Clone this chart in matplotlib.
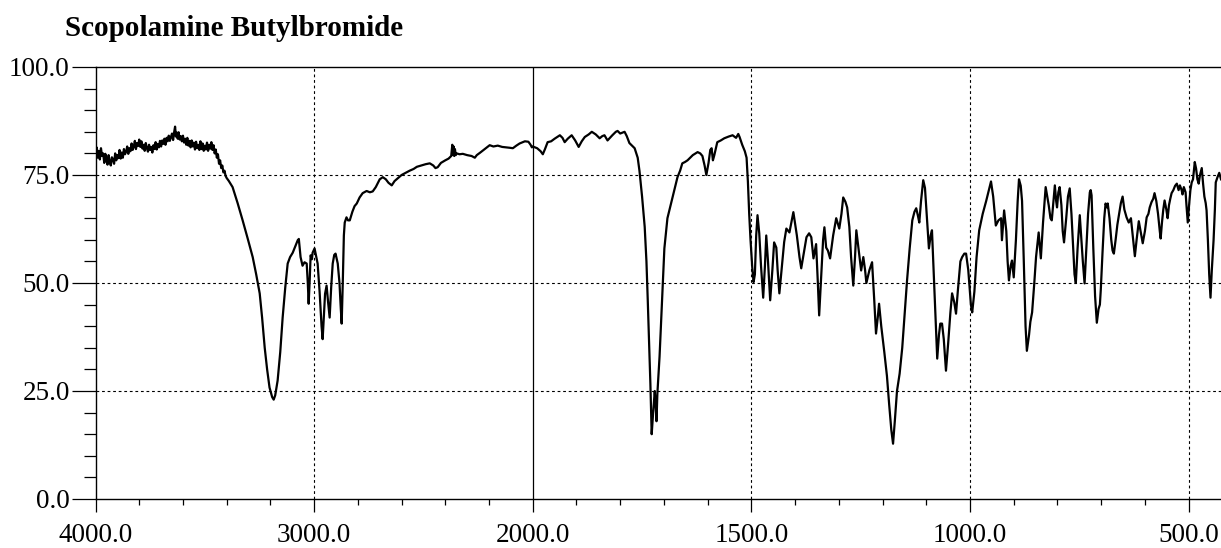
import numpy as np
import matplotlib
matplotlib.use('Agg')
import matplotlib.pyplot as plt
from matplotlib.ticker import FixedLocator, FixedFormatter

plt.rcParams['font.family'] = ['Liberation Serif', 'DejaVu Serif']

title = 'Scopolamine Butylbromide'

# ---- spectrum values (wavenumber cm-1, %T) ----
wn_a = [4000, 3995, 3990, 3985, 3980, 3975, 3970, 3965, 3960, 3955, 3950, 3945, 3940, 3935,
        3930, 3925, 3920, 3915, 3910, 3905, 3900, 3895, 3890, 3885, 3880, 3875, 3870, 3865,
        3860, 3855, 3850, 3845, 3840, 3835, 3830, 3825, 3820, 3815, 3810, 3805, 3800, 3795,
        3790, 3785, 3780, 3775, 3770, 3765, 3760, 3755, 3750, 3745, 3740, 3735, 3730, 3725,
        3720, 3715, 3710, 3705, 3700, 3695, 3690, 3685, 3680, 3675, 3670, 3665, 3660, 3655,
        3650, 3645, 3640, 3636, 3632, 3628, 3624, 3620, 3615, 3610, 3605, 3600, 3595, 3590,
        3585, 3580, 3575, 3570, 3565, 3560, 3555, 3550, 3545, 3540, 3535, 3530, 3525, 3520,
        3515, 3510, 3505, 3500, 3495, 3490, 3485, 3480, 3475, 3470, 3465, 3460, 3455, 3450,
        3445, 3440, 3435, 3430, 3425, 3420, 3415, 3410, 3405, 3400]
t_a = [80.2, 81.4, 79.0, 80.6, 78.6, 81.2, 79.4, 80.0, 77.8, 79.9, 78.4, 77.4, 79.6, 78.0,
       77.2, 79.1, 78.6, 77.6, 80.0, 78.4, 79.6, 78.9, 80.8, 78.8, 80.2, 79.0, 81.0, 79.8,
       80.4, 81.6, 79.9, 81.2, 80.5, 82.3, 80.8, 81.6, 82.9, 81.0, 82.4, 81.7, 83.2, 81.5,
       82.8, 81.1, 82.0, 80.6, 82.4, 81.2, 80.4, 82.0, 80.8, 81.5, 80.2, 81.9, 81.0, 82.6,
       80.9, 82.2, 81.4, 82.9, 81.6, 83.0, 82.2, 83.4, 82.0, 83.6, 82.8, 84.1, 82.9, 83.8,
       84.6, 83.1, 85.0, 86.2, 83.9, 84.8, 83.4, 84.9, 83.2, 84.0, 82.8, 84.1, 82.5, 83.4,
       82.0, 83.6, 81.8, 82.9, 81.4, 83.0, 81.6, 82.5, 80.9, 82.7, 81.2, 82.0, 80.8, 82.8,
       81.0, 82.3, 80.6, 81.8, 80.9, 82.5, 80.6, 82.0, 81.1, 82.6, 80.8, 81.9, 80.0, 80.9,
       79.0, 79.8, 77.6, 78.4, 76.6, 77.2, 75.6, 76.0, 74.8, 74.3]

wn_b = [3390, 3373, 3350, 3327, 3305, 3281, 3265, 3249, 3238, 3226, 3215, 3204, 3192, 3185,
        3178, 3167, 3155, 3144, 3132, 3121, 3110, 3098, 3086, 3075, 3070, 3066, 3062, 3053,
        3044, 3034, 3029, 3025, 3020, 3016, 3010, 3007, 2998, 2992, 2984, 2975, 2966, 2961,
        2955, 2950, 2943, 2936, 2929, 2922, 2915, 2908, 2902, 2892, 2884, 2878, 2874, 2869,
        2864, 2860, 2852, 2845, 2837, 2825, 2815, 2805, 2792, 2778, 2760, 2745, 2732, 2718,
        2700, 2686, 2672, 2660, 2645, 2632, 2618, 2600, 2585, 2563, 2545, 2530, 2510, 2490,
        2471, 2455, 2445, 2435, 2420, 2400, 2385, 2373, 2368, 2365, 2362, 2359, 2356, 2352,
        2348, 2335, 2320, 2300, 2280, 2265, 2256, 2240, 2220, 2197, 2180, 2160, 2140, 2120,
        2105, 2091, 2075, 2060, 2045, 2036, 2020, 2010, 2004]
t_b = [73.6, 72.2, 68.5, 64.5, 60.5, 56.0, 52.0, 47.6, 42.0, 35.0, 30.0, 25.8, 23.6, 23.0,
       24.0, 27.4, 34.0, 42.0, 49.0, 54.5, 56.0, 57.0, 58.5, 59.9, 60.2, 58.0, 56.0, 54.0,
       54.8, 54.5, 50.0, 45.2, 51.0, 56.4, 55.5, 57.0, 58.0, 56.5, 54.5, 48.0, 40.0, 37.0,
       43.0, 47.5, 49.4, 45.5, 42.0, 49.0, 54.5, 56.5, 56.8, 54.5, 50.0, 44.0, 40.6, 50.0,
       61.0, 64.0, 65.2, 64.5, 64.5, 66.5, 67.8, 68.4, 69.8, 70.8, 71.3, 71.0, 71.2, 72.2,
       74.0, 74.5, 74.0, 73.2, 72.6, 73.6, 74.2, 75.0, 75.4, 76.0, 76.4, 76.9, 77.2, 77.5,
       77.7, 77.2, 76.6, 76.8, 77.8, 78.4, 78.8, 79.4, 82.0, 79.6, 81.6, 79.4, 81.0, 79.6,
       80.0, 79.8, 79.9, 79.6, 79.4, 79.0, 79.6, 80.2, 81.0, 81.9, 81.6, 81.8, 81.5, 81.4,
       81.3, 81.2, 81.8, 82.3, 82.6, 82.8, 82.7, 82.0, 81.4]

wn_c = [2000, 1990, 1982, 1977, 1972, 1966, 1958, 1950, 1938, 1932, 1927, 1920, 1911, 1903,
        1895, 1888, 1881, 1872, 1865, 1856, 1847, 1841, 1836, 1829, 1818, 1810, 1806, 1800,
        1790, 1785, 1779, 1767, 1760, 1756, 1750, 1744, 1740, 1737, 1734, 1731, 1728, 1725,
        1721, 1719, 1717, 1715, 1710, 1705, 1699, 1692, 1686, 1680, 1675, 1669, 1663, 1658,
        1652, 1646, 1634, 1623, 1617, 1612, 1607, 1603, 1598, 1594, 1591, 1588, 1585, 1578,
        1570, 1562, 1552, 1543, 1535, 1530, 1527, 1521, 1515, 1511, 1508, 1505, 1502]
t_c = [81.6, 81.2, 80.5, 79.8, 81.0, 82.6, 82.8, 83.4, 84.2, 83.6, 82.6, 83.4, 84.2, 83.0,
       81.5, 82.8, 83.8, 84.4, 85.0, 84.4, 83.5, 84.0, 84.2, 83.0, 84.2, 85.0, 85.2, 84.6,
       85.0, 84.0, 82.4, 81.2, 79.0, 76.0, 70.0, 63.0, 55.0, 46.0, 36.0, 26.7, 15.0, 19.5,
       25.0, 22.0, 18.0, 24.4, 33.0, 44.3, 58.0, 65.0, 67.5, 70.0, 72.0, 74.5, 76.0, 77.7,
       78.0, 78.4, 79.6, 80.3, 80.0, 79.4, 77.2, 75.0, 77.8, 80.8, 81.2, 78.4, 79.5, 82.6,
       83.0, 83.5, 83.9, 84.2, 83.6, 84.5, 83.8, 82.0, 80.5, 79.0, 73.5, 66.0, 60.0]

wn_d = [1498, 1495, 1492, 1489, 1486, 1482, 1478, 1473, 1469, 1466, 1462, 1457, 1452, 1448,
        1443, 1440, 1436, 1430, 1425, 1420, 1413, 1404, 1396, 1390, 1386, 1380, 1374, 1368,
        1363, 1358, 1352, 1348, 1345, 1340, 1336, 1333, 1329, 1325, 1320, 1313, 1306, 1299,
        1294, 1290, 1285, 1281, 1276, 1272, 1267, 1263, 1260, 1255, 1249, 1244, 1240, 1237,
        1230, 1224, 1219, 1215, 1211, 1208, 1203, 1196, 1190, 1185, 1180, 1176, 1172, 1167,
        1161, 1155, 1150, 1144, 1138, 1132, 1127, 1123, 1119, 1116, 1112, 1107, 1103, 1098,
        1094, 1090, 1087, 1082, 1078, 1075, 1071, 1068, 1064, 1060, 1055, 1050, 1045, 1041,
        1036, 1032, 1028, 1022, 1018, 1013, 1009, 1004]
t_d = [53.6, 50.2, 52.0, 61.0, 65.7, 61.5, 54.0, 46.6, 54.0, 61.0, 55.0, 46.0, 53.0, 59.4,
       58.2, 53.0, 47.6, 54.0, 59.5, 62.6, 61.7, 66.4, 61.0, 56.0, 53.4, 57.0, 60.6, 61.5,
       60.6, 55.7, 59.0, 50.0, 42.5, 52.0, 60.0, 62.9, 58.2, 57.5, 55.7, 61.0, 65.0, 62.6,
       66.0, 69.8, 68.8, 67.5, 63.0, 56.0, 49.4, 56.0, 62.2, 58.0, 52.9, 56.0, 53.0, 50.0,
       53.0, 54.8, 46.0, 38.3, 42.0, 45.2, 40.0, 34.0, 28.5, 22.0, 16.0, 12.8, 18.0, 25.0,
       29.0, 35.0, 42.0, 50.6, 58.0, 64.5, 66.5, 67.3, 65.5, 64.0, 69.0, 73.8, 72.0, 64.0,
       58.0, 61.0, 62.2, 50.0, 40.0, 32.5, 38.0, 40.6, 40.6, 37.0, 29.7, 36.0, 43.0, 47.6,
       45.5, 42.9, 48.0, 55.0, 56.0, 56.8, 56.8, 53.0]

wn_e = [998, 995, 990, 985, 979, 971, 963, 957, 952, 947, 941, 935, 929, 927, 922, 917, 914,
        911, 907, 904, 900, 895, 891, 888, 884, 881, 877, 873, 870, 865, 862, 858, 853, 849,
        843, 838, 833, 827, 820, 816, 813, 810, 806, 803, 801, 798, 795, 791, 788, 785, 780,
        776, 772, 768, 764, 761, 758, 754, 749, 746, 742, 738, 734, 730, 726, 724, 722, 718,
        714, 710, 706, 703, 701, 697, 693, 690, 687, 685, 681, 677, 674, 671, 667, 663, 659,
        655, 651, 647, 642, 637, 632, 628, 623, 619, 614, 610, 605, 600, 596, 592, 589, 585,
        581, 578, 574, 570, 566, 564, 561, 558, 555, 551, 548, 545, 542, 539, 535, 531, 527,
        523, 520, 516, 514, 511, 507, 505, 502, 499, 496, 493, 490, 488, 486, 483, 480, 477,
        474, 470, 467, 464, 461, 459, 456, 453, 450, 447, 443, 440, 438, 434, 430, 426]
t_e = [45.0, 43.2, 48.0, 56.0, 62.2, 66.0, 69.0, 71.5, 73.5, 70.0, 63.3, 64.5, 65.0, 59.9,
       66.8, 62.0, 55.0, 50.6, 54.0, 55.2, 51.3, 60.0, 69.0, 74.0, 72.5, 69.0, 55.0, 40.0,
       34.3, 38.0, 41.0, 43.2, 50.0, 56.0, 61.7, 55.7, 64.0, 72.2, 68.0, 65.0, 64.5, 68.0,
       72.6, 69.0, 67.5, 71.0, 72.2, 68.0, 62.0, 59.4, 65.0, 70.0, 71.9, 66.0, 58.0, 52.0,
       50.0, 58.0, 65.7, 61.0, 55.0, 49.9, 58.0, 66.0, 71.0, 71.5, 70.3, 58.0, 47.0, 40.8,
       44.0, 45.0, 48.3, 57.0, 65.0, 68.4, 67.5, 68.4, 65.0, 60.0, 57.5, 56.8, 60.0, 63.5,
       66.0, 68.5, 70.0, 67.0, 65.2, 64.0, 65.0, 61.0, 56.2, 60.0, 64.3, 62.0, 59.2, 62.0,
       65.2, 66.0, 67.5, 68.7, 69.5, 70.8, 69.0, 66.0, 62.0, 60.3, 64.0, 67.0, 69.1, 67.0,
       65.0, 68.0, 69.5, 70.8, 71.5, 72.5, 73.0, 71.5, 72.6, 71.5, 70.5, 72.2, 71.0, 68.0,
       64.0, 68.0, 71.5, 73.3, 74.0, 76.0, 78.0, 76.5, 74.0, 73.0, 75.0, 76.6, 73.0, 70.0,
       68.5, 66.8, 60.0, 52.0, 46.6, 53.0, 59.9, 67.0, 73.3, 74.5, 75.5, 74.0]

# ---- axis ticks / labels ----
x_major = [4000, 3000, 2000, 1500, 1000, 500]
x_major_labels = ['4000.0', '3000.0', '2000.0', '1500.0', '1000.0', '500.0']
x_minor = [3800, 3600, 3400, 3200, 2800, 2600, 2400, 2200,
           1900, 1800, 1700, 1600, 1400, 1300, 1200, 1100, 900, 800, 700, 600]
y_major = [0, 25, 50, 75, 100]
y_major_labels = ['0.0', '25.0', '50.0', '75.0', '100.0']
y_minor = [5, 10, 15, 20, 30, 35, 40, 45, 55, 60, 65, 70, 80, 85, 90, 95]
x_grid = [3000, 1500, 1000, 500]
y_grid = [25, 50, 75]
x_break = 2000


def fwd(x):
    x = np.asarray(x, dtype=float)
    return np.where(x > 2000, 2000 + (x - 2000) * 0.5, x)


def inv(u):
    u = np.asarray(u, dtype=float)
    return np.where(u > 2000, 2000 + (u - 2000) * 2.0, u)


wavenumber = wn_a + wn_b + wn_c + wn_d + wn_e
transmittance = t_a + t_b + t_c + t_d + t_e

W, H = 1221, 548
fig = plt.figure(figsize=(W / 100, H / 100), dpi=100)
fig.patch.set_facecolor('white')
left = 95.5 / W
bottom = 1 - 499 / H
top = 1 - 67 / H
ax = fig.add_axes([left, bottom, 1 - left, top - bottom])

ax.set_xscale('function', functions=(fwd, inv))
ax.set_xlim(4000, 426)
ax.set_ylim(0, 100)

for g in x_grid:
    ax.axvline(g, color='black', lw=0.8, linestyle=(0, (2.5, 2.5)), zorder=1)
for g in y_grid:
    ax.axhline(g, color='black', lw=0.8, linestyle=(0, (2.5, 2.5)), zorder=1)
ax.axvline(x_break, color='black', lw=0.9, zorder=1)

ax.plot(wavenumber, transmittance, color='black', lw=1.6, zorder=3)

ax.xaxis.set_major_locator(FixedLocator(x_major))
ax.xaxis.set_major_formatter(FixedFormatter(x_major_labels))
ax.xaxis.set_minor_locator(FixedLocator(x_minor))
ax.xaxis.set_minor_formatter(FixedFormatter([''] * len(x_minor)))
ax.yaxis.set_major_locator(FixedLocator(y_major))
ax.yaxis.set_major_formatter(FixedFormatter(y_major_labels))
ax.yaxis.set_minor_locator(FixedLocator(y_minor))

ax.tick_params(axis='y', which='major', direction='out', length=17, width=0.9,
               pad=1.5, labelsize=19.5, colors='black')
ax.tick_params(axis='y', which='minor', direction='out', length=8.6, width=0.9)
ax.tick_params(axis='x', which='major', direction='out', length=9.4, width=0.9,
               pad=8, labelsize=19.5, colors='black')
ax.tick_params(axis='x', which='minor', direction='out', length=4.3, width=0.9)

for s in ['left', 'bottom', 'top']:
    ax.spines[s].set_linewidth(1.0)
    ax.spines[s].set_color('black')
ax.spines['right'].set_visible(False)

fig.text(65 / W, 1 - 36 / H, title, fontsize=21, fontweight='bold',
         ha='left', va='baseline')

fig.savefig('out.png', dpi=100, facecolor='white')
